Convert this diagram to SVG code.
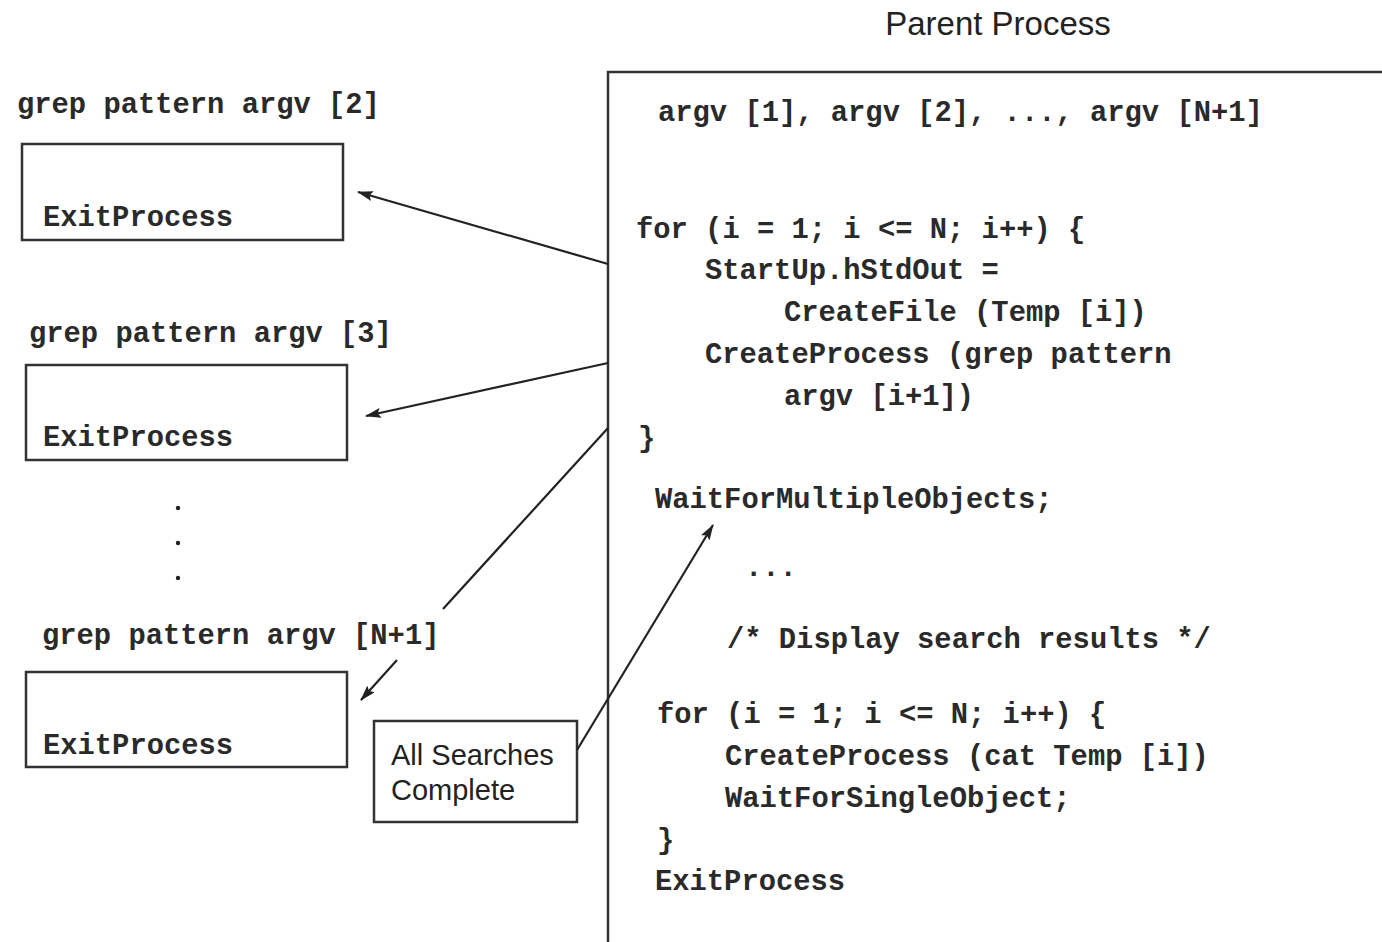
<svg xmlns="http://www.w3.org/2000/svg" width="1382" height="942" viewBox="0 0 1382 942">
<style>
.mono{font-family:"Liberation Mono","Courier New",monospace;font-size:28.8px;font-weight:bold;fill:#2a2a2a}
.sans{font-family:"Liberation Sans",Arial,sans-serif;fill:#222}
.box{fill:#fff;stroke:#333;stroke-width:2.5}
.conn{stroke:#222;stroke-width:2.2;fill:none}
</style>
<defs>
<marker id="ah" viewBox="0 0 16 10" refX="15" refY="5" markerWidth="16" markerHeight="10" markerUnits="userSpaceOnUse" orient="auto">
<path d="M0,0 L16,5 L0,10 L3,5 z" fill="#222"/>
</marker>
</defs>
<rect width="1382" height="942" fill="#fff"/>

<g id="parent">
<text class="sans" x="998" y="35" font-size="33" text-anchor="middle">Parent Process</text>
<path d="M608,942 L608,72 L1382,72" fill="none" stroke="#333" stroke-width="2.5"/>
<text class="mono" x="658" y="121">argv [1], argv [2], ..., argv [N+1]</text>
<text class="mono" x="636" y="238">for (i = 1; i &lt;= N; i++) {</text>
<text class="mono" x="705" y="279">StartUp.hStdOut =</text>
<text class="mono" x="784" y="321">CreateFile (Temp [i])</text>
<text class="mono" x="705" y="363">CreateProcess (grep pattern</text>
<text class="mono" x="784" y="405">argv [i+1])</text>
<text class="mono" x="638" y="447">}</text>
<text class="mono" x="655" y="508">WaitForMultipleObjects;</text>
<text class="mono" x="745" y="576">...</text>
<text class="mono" x="727" y="648">/* Display search results */</text>
<text class="mono" x="657" y="723">for (i = 1; i &lt;= N; i++) {</text>
<text class="mono" x="725" y="765">CreateProcess (cat Temp [i])</text>
<text class="mono" x="725" y="807">WaitForSingleObject;</text>
<text class="mono" x="657" y="849">}</text>
<text class="mono" x="655" y="890">ExitProcess</text>
</g>

<g id="child2">
<text class="mono" x="17" y="113">grep pattern argv [2]</text>
<rect class="box" x="22" y="144" width="321" height="96"/>
<text class="mono" x="43" y="226">ExitProcess</text>
</g>

<g id="child3">
<text class="mono" x="29" y="342">grep pattern argv [3]</text>
<rect class="box" x="26" y="365" width="321" height="95"/>
<text class="mono" x="43" y="446">ExitProcess</text>
</g>

<g id="ellipsis">
<circle cx="178" cy="508" r="2.2" fill="#222"/>
<circle cx="178" cy="543" r="2.2" fill="#222"/>
<circle cx="178" cy="578" r="2.2" fill="#222"/>
</g>

<g id="childN">
<text class="mono" x="42" y="644">grep pattern argv [N+1]</text>
<rect class="box" x="26" y="672" width="321" height="95"/>
<text class="mono" x="43" y="754">ExitProcess</text>
</g>

<g id="complete">
<rect class="box" x="374" y="721" width="203" height="101"/>
<text class="sans" x="391" y="765" font-size="29">All Searches</text>
<text class="sans" x="391" y="800" font-size="29">Complete</text>
</g>

<g id="connectors">
<line class="conn" x1="608" y1="264" x2="358" y2="192" marker-end="url(#ah)"/>
<line class="conn" x1="608" y1="363" x2="366" y2="416" marker-end="url(#ah)"/>
<line class="conn" x1="608" y1="428" x2="443" y2="609"/>
<line class="conn" x1="397" y1="660" x2="361" y2="700" marker-end="url(#ah)"/>
<line class="conn" x1="577" y1="750" x2="713" y2="525" marker-end="url(#ah)"/>
</g>
</svg>
